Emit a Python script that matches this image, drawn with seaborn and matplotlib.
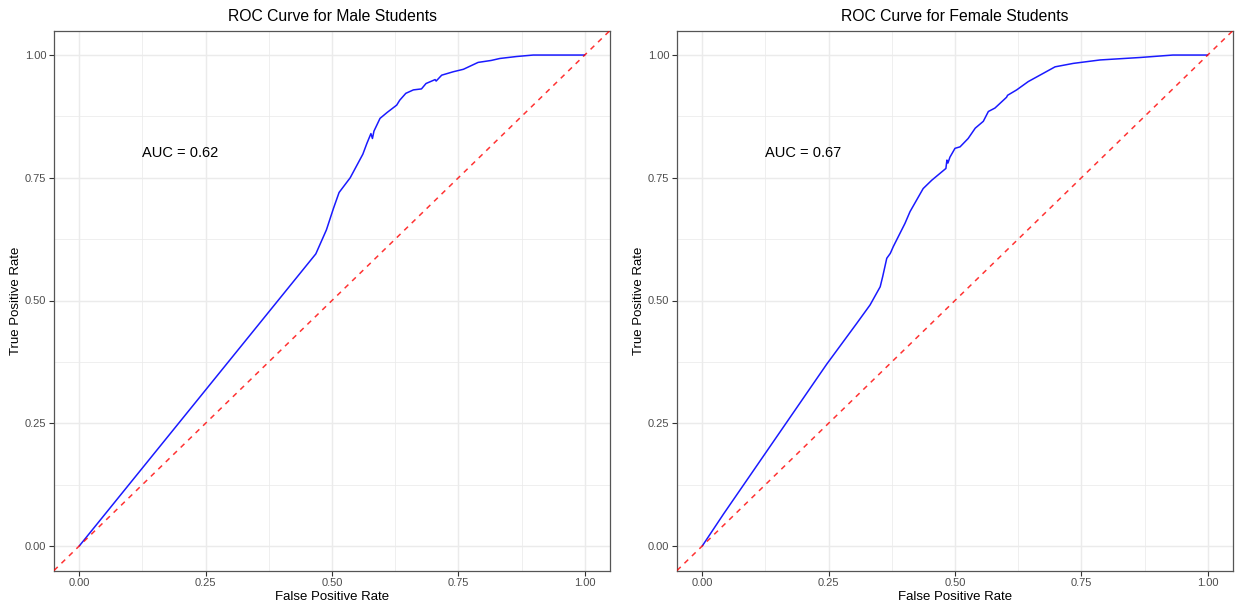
import matplotlib
matplotlib.use("Agg")
import matplotlib.pyplot as plt
from matplotlib.ticker import MultipleLocator
import seaborn as sns
import pandas as pd

# ---- data ----
male_fpr = [0.0, 0.468, 0.489, 0.503, 0.514, 0.536, 0.561, 0.569, 0.577, 0.580, 0.583,
            0.595, 0.609, 0.628, 0.634, 0.646, 0.661, 0.677, 0.686, 0.704, 0.706, 0.717,
            0.740, 0.760, 0.789, 0.815, 0.832, 0.865, 0.898, 1.0]
male_tpr = [0.0, 0.595, 0.644, 0.688, 0.720, 0.750, 0.798, 0.820, 0.840, 0.830, 0.845,
            0.871, 0.883, 0.898, 0.908, 0.922, 0.929, 0.931, 0.942, 0.950, 0.947, 0.959,
            0.966, 0.971, 0.985, 0.989, 0.993, 0.997, 1.0, 1.0]

female_fpr = [0.0, 0.042, 0.246, 0.306, 0.332, 0.352, 0.357, 0.365, 0.372, 0.378, 0.401,
              0.411, 0.437, 0.454, 0.482, 0.484, 0.486, 0.490, 0.500, 0.510, 0.526, 0.540,
              0.556, 0.566, 0.579, 0.602, 0.604, 0.622, 0.645, 0.668, 0.698, 0.734, 0.787,
              0.866, 0.931, 1.0]
female_tpr = [0.0, 0.065, 0.370, 0.454, 0.491, 0.528, 0.549, 0.586, 0.596, 0.610, 0.657,
              0.681, 0.728, 0.745, 0.769, 0.786, 0.780, 0.792, 0.810, 0.813, 0.830, 0.851,
              0.865, 0.885, 0.892, 0.914, 0.918, 0.929, 0.946, 0.959, 0.976, 0.983, 0.990,
              0.995, 1.0, 1.0]

titles = ["ROC Curve for Male Students", "ROC Curve for Female Students"]
auc_labels = ["AUC = 0.62", "AUC = 0.67"]
tick_values = [0.0, 0.25, 0.5, 0.75, 1.0]
tick_labels = ["0.00", "0.25", "0.50", "0.75", "1.00"]

sns.set_style("white")
plt.rcParams["font.family"] = ["Liberation Sans", "DejaVu Sans"]

fig = plt.figure(figsize=(12.35, 6.04), dpi=100)
W, H = 1235, 604
bottom = 1 - 570.5 / H
height = 540 / H
axes = [fig.add_axes([54 / W, bottom, 556 / W, height]),
        fig.add_axes([677 / W, bottom, 556 / W, height])]

datasets = [(male_fpr, male_tpr), (female_fpr, female_tpr)]

for ax, (fpr, tpr), title, auc in zip(axes, datasets, titles, auc_labels):
    df = pd.DataFrame({"fpr": fpr, "tpr": tpr})
    ax.set_facecolor("white")
    # grid
    ax.xaxis.set_minor_locator(MultipleLocator(0.125))
    ax.yaxis.set_minor_locator(MultipleLocator(0.125))
    ax.grid(which="major", color="#EBEBEB", linewidth=1.07)
    ax.grid(which="minor", color="#EBEBEB", linewidth=0.55)
    ax.set_axisbelow(True)

    sns.lineplot(data=df, x="fpr", y="tpr", sort=False, estimator=None,
                 color="#1a1aff", linewidth=1.1, ax=ax, zorder=3)
    ax.axline((0, 0), (1, 1), color="red", linestyle=(0, (3.4, 3.4)),
              linewidth=1.1, alpha=0.8, zorder=4)

    ax.text(0.2, 0.8, auc, ha="center", va="center", fontsize=10.5, color="black")

    ax.set_xlim(-0.05, 1.05)
    ax.set_ylim(-0.05, 1.05)
    ax.set_xticks(tick_values)
    ax.set_xticklabels(tick_labels)
    ax.set_yticks(tick_values)
    ax.set_yticklabels(tick_labels)
    ax.tick_params(axis="both", which="major", length=3.5, width=0.8,
                   color="#333333", labelsize=8, labelcolor="#4D4D4D", pad=2,
                   bottom=True, left=True)
    ax.tick_params(axis="both", which="minor", length=0)
    for s in ax.spines.values():
        s.set_visible(True)
        s.set_color("#555555")
        s.set_linewidth(0.9)

    ax.set_xlabel("False Positive Rate", fontsize=9.5, color="black", labelpad=2)
    ax.set_ylabel("True Positive Rate", fontsize=9.5, color="black", labelpad=2)
    ax.set_title(title, fontsize=11.3, color="black", pad=7)

fig.savefig("out.png", dpi=100, facecolor="white")
